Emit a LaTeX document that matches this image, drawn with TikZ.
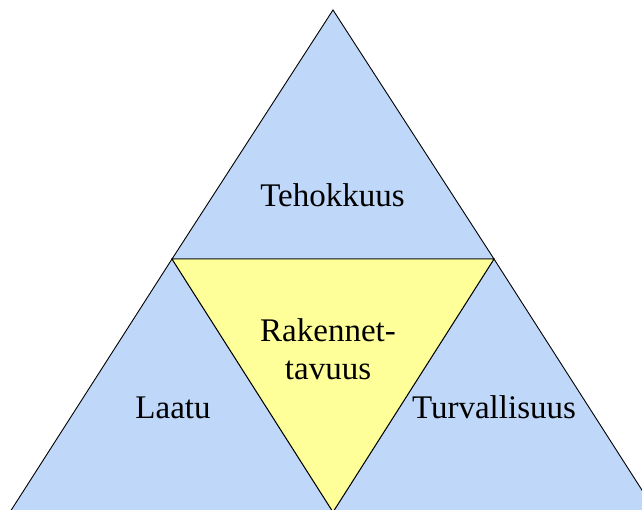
\documentclass[tikz,border=0pt]{standalone}
\usepackage{fontspec}
\setmainfont{Liberation Serif}
\definecolor{triblue}{RGB}{191,215,248}
\definecolor{triyellow}{RGB}{255,255,153}
\begin{document}
\begin{tikzpicture}[x=1bp,y=-1bp,
  tri/.style={draw=black,line width=0.9bp,line join=miter},
  lbl/.style={anchor=base,inner sep=0pt,font=\fontsize{33bp}{38bp}\selectfont,align=center}]
\useasboundingbox (0,0) rectangle (642,510);
\clip (0,0) rectangle (642,510);
\coordinate (A) at (333,10);
\coordinate (L) at (172,259);
\coordinate (R) at (494,259);
\coordinate (BL) at (10,512);
\coordinate (BM) at (333,512);
\coordinate (BR) at (656,512);
\filldraw[tri,fill=triblue] (A) -- (L) -- (R) -- cycle;
\filldraw[tri,fill=triblue] (L) -- (BL) -- (BM) -- cycle;
\filldraw[tri,fill=triblue] (R) -- (BM) -- (BR) -- cycle;
\filldraw[tri,fill=triyellow] (L) -- (R) -- (BM) -- cycle;
\node[lbl] (teho) at (332.5,207) {Tehokkuus};
\node[lbl,anchor=north] (rake) at (328,318) {Rakennet-\\tavuus};
\node[lbl] (laatu) at (173,418) {Laatu};
\node[lbl] (turva) at (494,418) {Turvallisuus};
\end{tikzpicture}
\end{document}
